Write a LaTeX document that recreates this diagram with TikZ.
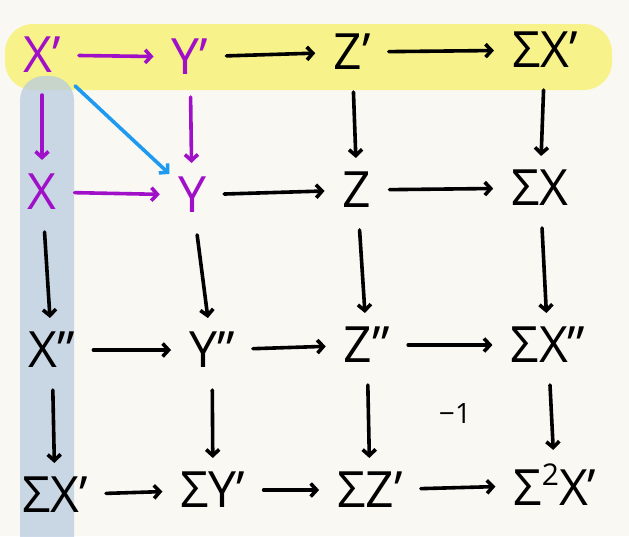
\documentclass[tikz,border=0pt]{standalone}
\usepackage{fontspec}
\setmainfont{Open Sans}
\usetikzlibrary{arrows.meta}
\definecolor{bg}{HTML}{FAF8F3}
\definecolor{hlyellow}{HTML}{F8F28A}
\definecolor{hlblue}{HTML}{B9CCE0}
\definecolor{purp}{HTML}{A010C8}
\definecolor{skyb}{HTML}{1E9BF0}
\tikzset{
  obj/.style={inner sep=4pt, font=\fontsize{50}{50}\selectfont},
  pobj/.style={obj, text=purp},
  arr/.style={line width=3.6pt, line cap=round, -{Straight Barb[length=6pt,width=13pt]}, shorten <=14pt, shorten >=14pt},
  varr/.style={arr, shorten <=18pt, shorten >=10pt},
  parr/.style={arr, draw=purp},
  pvarr/.style={varr, draw=purp},
  barr/.style={arr, draw=skyb}
}
\begin{document}
\begin{tikzpicture}[x=1pt,y=-1pt]
\useasboundingbox (0,0) rectangle (629,536);
\fill[bg] (0,0) rectangle (629,536);
\fill[hlyellow, rounded corners=28pt] (5,24) rectangle (612,90);
\fill[hlblue, opacity=0.75, rounded corners=24pt] (20,76) rectangle (74,580);
% row 1
\node[pobj] (xp) at (42,55) {X'};
\node[pobj] (yp) at (190,57) {Y'};
\node[obj] (zp) at (352,52) {Z'};
\node[obj] (sxp) at (545,50) {ΣX'};
% row 2
\node[pobj] (x) at (42,192) {X};
\node[pobj] (y) at (192,195) {Y};
\node[obj] (z) at (357,190) {Z};
\node[obj] (sx) at (540,188) {ΣX};
% row 3
\node[obj] (xpp) at (52,350) {X''};
\node[obj] (ypp) at (212,350) {Y''};
\node[obj] (zpp) at (367,345) {Z''};
\node[obj] (sxpp) at (548,345) {ΣX''};
% row 4
\node[obj] (sxp4) at (55,495) {ΣX'};
\node[obj] (syp) at (213,490) {ΣY'};
\node[obj] (szp) at (370,490) {ΣZ'};
\node[obj] (ssxp) at (555,485) {Σ\raisebox{20pt}{\fontsize{30}{30}\selectfont 2}X'};
% label
\node[font=\fontsize{28}{28}\selectfont] (m1) at (455,413) {−1};
% horizontal arrows
\draw[parr] (xp) -- (yp);
\draw[arr] (yp) -- (zp);
\draw[arr] (zp) -- (sxp);
\draw[parr] (x) -- (y);
\draw[arr] (y) -- (z);
\draw[arr] (z) -- (sx);
\draw[arr] (xpp) -- (ypp);
\draw[arr] (ypp) -- (zpp);
\draw[arr] (zpp) -- (sxpp);
\draw[arr] (sxp4) -- (syp);
\draw[arr] (syp) -- (szp);
\draw[arr] (szp) -- (ssxp);
% vertical arrows
\draw[pvarr] (xp) -- (x);
\draw[pvarr] (yp) -- (y);
\draw[varr] (zp) -- (z);
\draw[varr] (sxp) -- (sx);
\draw[varr] (x) -- (xpp);
\draw[varr] (y) -- (ypp);
\draw[varr] (z) -- (zpp);
\draw[varr] (sx) -- (sxpp);
\draw[varr] (xpp) -- (sxp4);
\draw[varr] (ypp) -- (syp);
\draw[varr] (zpp) -- (szp);
\draw[varr] (sxpp) -- (ssxp);
% diagonal
\draw[barr, shorten <=14pt, shorten >=6pt] (xp) -- (y);
\end{tikzpicture}
\end{document}
